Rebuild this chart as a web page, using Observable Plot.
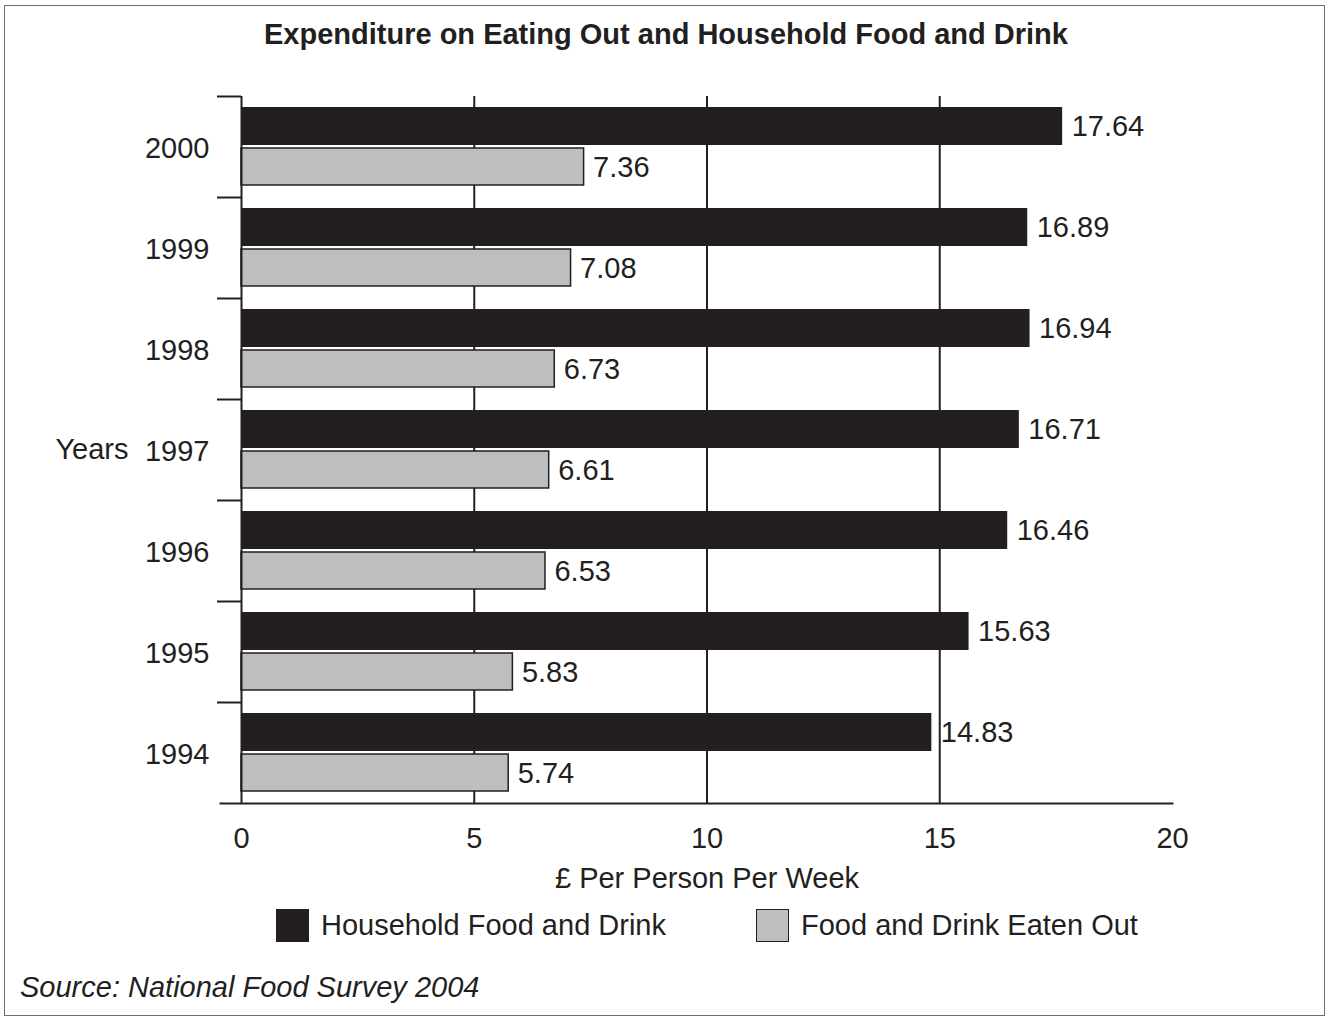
<!DOCTYPE html>
<html>
<head>
<meta charset="utf-8">
<script src="https://cdn.jsdelivr.net/npm/d3@7"></script>
<script src="https://cdn.jsdelivr.net/npm/@observablehq/plot@0.6"></script>
<style>
  html, body { margin: 0; padding: 0; background: #fff; }
  body { font-family: "Liberation Sans", Arial, Helvetica, sans-serif; color: #231f20; }
  #page { position: relative; width: 1330px; height: 1021px; overflow: hidden; }
  #border { position: absolute; left: 4px; top: 5px; width: 1321px; height: 1011px; border: 1px solid #6d6e71; box-sizing: border-box; }
  #title { position: absolute; left: 0; top: 20px; width: 1332px; text-align: center; font-size: 29px; line-height: 1; font-weight: bold; }
  #chart { position: absolute; left: 0; top: 60px; }
  .leg { position: absolute; top: 909px; display: flex; align-items: center; font-size: 29px; line-height: 33px; }
  .sw { width: 33px; height: 33px; box-sizing: border-box; margin-right: 12px; }
  #source { position: absolute; left: 20px; top: 973px; font-size: 29px; line-height: 1; font-style: italic; }
</style>
</head>
<body>
<div id="page">
  <div id="border"></div>
  <div id="title"></div>
  <div id="chart"></div>
  <div id="leg1" class="leg" style="left:276px"><div class="sw" id="sw1"></div><span id="lt1"></span></div>
  <div id="leg2" class="leg" style="left:756px"><div class="sw" id="sw2"></div><span id="lt2"></span></div>
  <div id="source"></div>
</div>
<script>
// ---- data ----
const years = ["1994", "1995", "1996", "1997", "1998", "1999", "2000"];
const household = [14.83, 15.63, 16.46, 16.71, 16.94, 16.89, 17.64];
const eatenOut = [5.74, 5.83, 6.53, 6.61, 6.73, 7.08, 7.36];
const xTicks = [0, 5, 10, 15, 20];
const gridTicks = [5, 10, 15];
const seriesNames = ["Household Food and Drink", "Food and Drink Eaten Out"];
const titleText = "Expenditure on Eating Out and Household Food and Drink";
const xLabel = "£ Per Person Per Week";
const yLabel = "Years";
const sourceText = "Source: National Food Survey 2004";

// ---- styling ----
const ink = "#231f20";
const grey = "#bcbec0";
const font = '"Liberation Sans", Arial, Helvetica, sans-serif';
const fs = 29;

const W = 1330, mL = 241, mR = 158, mT = 36, plotH = 707, mB = 97;
const H = mT + plotH + mB;
const bw = plotH / years.length;
const pxPerUnit = (W - mL - mR) / (xTicks[xTicks.length - 1] - xTicks[0]);
const tickLen = 24;

const rows = years.map((y, i) => ({year: y, household: household[i], eatenOut: eatenOut[i]}));

document.getElementById("title").textContent = titleText;
document.getElementById("lt1").textContent = seriesNames[0];
document.getElementById("lt2").textContent = seriesNames[1];
document.getElementById("sw1").style.background = ink;
document.getElementById("sw2").style.background = grey;
document.getElementById("sw2").style.border = "1.5px solid " + ink;
document.getElementById("source").textContent = sourceText;

const chart = Plot.plot({
  width: W,
  height: H,
  marginLeft: mL,
  marginRight: mR,
  marginTop: mT,
  marginBottom: mB,
  style: {fontFamily: font, fontSize: fs + "px", color: ink, background: "transparent", overflow: "visible"},
  x: {domain: [xTicks[0], xTicks[xTicks.length - 1]], axis: null},
  y: {domain: years.slice().reverse(), padding: 0, axis: null},
  marks: [
    Plot.ruleX(gridTicks, {stroke: ink, strokeWidth: 2}),
    Plot.barX(rows, {y: "year", x: "household", fill: ink, insetTop: 11, insetBottom: 52}),
    Plot.barX(rows, {y: "year", x: "eatenOut", fill: grey, stroke: ink, strokeWidth: 1.5, insetTop: 52, insetBottom: 12}),
    Plot.text(rows, {y: "year", x: "household", text: d => d.household.toFixed(2), dx: 9, dy: -20, textAnchor: "start", fill: ink, fontSize: fs}),
    Plot.text(rows, {y: "year", x: "eatenOut", text: d => d.eatenOut.toFixed(2), dx: 9, dy: 20.5, textAnchor: "start", fill: ink, fontSize: fs}),
    Plot.ruleX([xTicks[0]], {stroke: ink, strokeWidth: 2}),
    Plot.frame({anchor: "bottom", insetLeft: -21, stroke: ink, strokeWidth: 2}),
    Plot.ruleY(years, {y: d => d, dy: -bw / 2, x1: -tickLen / pxPerUnit, x2: xTicks[0], stroke: ink, strokeWidth: 2}),
    Plot.ruleX([xTicks[xTicks.length - 1]], {y: () => years[0], insetTop: bw - 16, stroke: ink, strokeWidth: 2}),
    Plot.axisX(xTicks, {tickSize: 0, tickPadding: 24, fontSize: fs, fill: ink, label: null}),
    Plot.axisY({tickSize: 0, tickPadding: 32, fontSize: fs, fill: ink, label: null, dy: 2}),
    Plot.text([yLabel], {frameAnchor: "left", textAnchor: "end", dx: -113, fontSize: fs, fill: ink}),
    Plot.text([xLabel], {frameAnchor: "bottom", dy: 84, fontSize: fs, fill: ink})
  ]
});
document.getElementById("chart").appendChild(chart);
</script>
</body>
</html>
